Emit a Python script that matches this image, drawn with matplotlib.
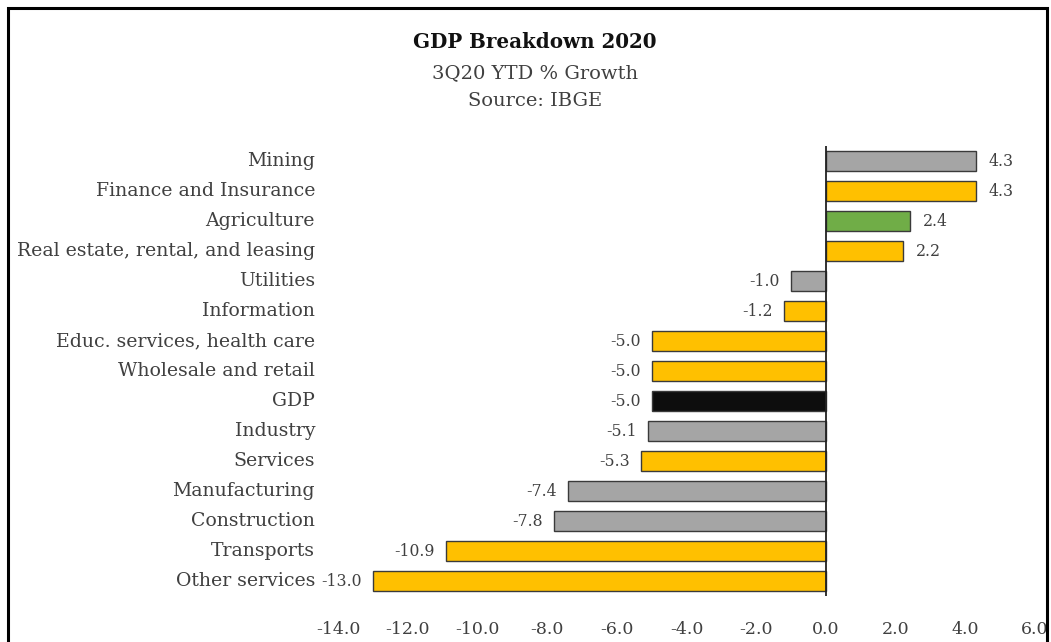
import matplotlib
matplotlib.use("Agg")
import matplotlib.pyplot as plt
from matplotlib.patches import Rectangle

categories = ["Mining", "Finance and Insurance", "Agriculture", "Real estate, rental, and leasing",
              "Utilities", "Information", "Educ. services, health care", "Wholesale and retail",
              "GDP", "Industry", "Services", "Manufacturing", "Construction", "Transports",
              "Other services"]
values = [4.3, 4.3, 2.4, 2.2, -1.0, -1.2, -5.0, -5.0, -5.0, -5.1, -5.3, -7.4, -7.8, -10.9, -13.0]
groups = ["gray", "yellow", "green", "yellow", "gray", "yellow", "yellow", "yellow",
          "black", "gray", "yellow", "gray", "gray", "yellow", "yellow"]
xticks = [-14, -12, -10, -8, -6, -4, -2, 0, 2, 4, 6]

palette = {"gray": "#A5A5A5", "yellow": "#FFC000", "green": "#70AD47", "black": "#0D0D0D"}
FONT = "DejaVu Serif"
TXT = "#404040"

fig = plt.figure(figsize=(10.51, 6.42), dpi=100)
fig.patches.append(Rectangle((8/1051, -0.1), (1047-8)/1051, 1.1 - 8/642, transform=fig.transFigure,
                             fill=False, edgecolor="black", linewidth=2.2))

ax = fig.add_axes([338/1051, 1 - 596/642, (1035-338)/1051, (596-146)/642])
y = list(range(len(categories)))
ax.barh(y, values, height=0.67, color=[palette[g] for g in groups], edgecolor="#3a3a3a", linewidth=1.0)
ax.set_ylim(len(categories) - 0.5, -0.5)
ax.set_xlim(-14, 6)
ax.set_xticks(xticks)
ax.set_xticklabels([f"{t:.1f}" for t in xticks], fontsize=12.5, color=TXT, family=FONT)
ax.tick_params(axis="x", length=0, pad=18)
ax.set_yticks([])
for s in ax.spines.values():
    s.set_visible(False)
ax.axvline(0, color="#222222", linewidth=1.3)

for yi, (c, v) in enumerate(zip(categories, values)):
    ax.annotate(c, xy=(0, yi), xycoords=("axes fraction", "data"), xytext=(-23, 0),
                textcoords="offset pixels",
                ha="right", va="center", fontsize=13.6, color=TXT, family=FONT)
    if v >= 0:
        ax.annotate(f"{v:.1f}", xy=(v, yi), xytext=(13, 0), textcoords="offset pixels",
                    ha="left", va="center", fontsize=11.3, color=TXT, family=FONT)
    else:
        ax.annotate(f"{v:.1f}", xy=(v, yi), xytext=(-11, 0), textcoords="offset pixels",
                    ha="right", va="center", fontsize=11.3, color=TXT, family=FONT)

fig.text(535/1051, 1 - 42/642, "GDP Breakdown 2020", ha="center", va="center",
         fontsize=14.3, fontweight="bold", color="#111111", family=FONT)
fig.text(535/1051, 1 - 73/642, "3Q20 YTD % Growth", ha="center", va="center",
         fontsize=14, color=TXT, family=FONT)
fig.text(535/1051, 1 - 101/642, "Source: IBGE", ha="center", va="center",
         fontsize=14, color=TXT, family=FONT)

fig.savefig("out.png", dpi=100)
